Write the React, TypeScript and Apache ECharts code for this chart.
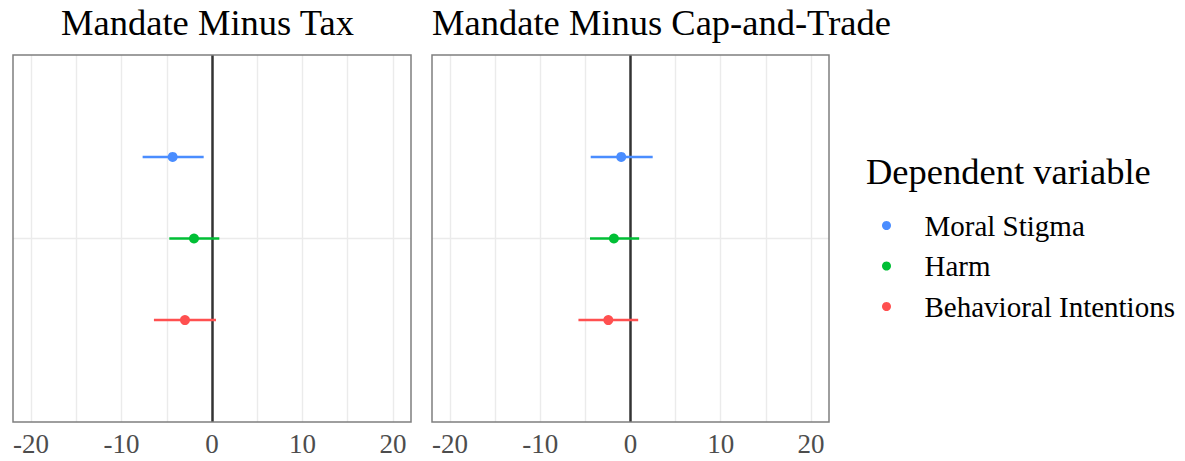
import React, { useEffect, useRef } from "react";
import * as echarts from "echarts";

const variables = ["Moral Stigma", "Harm", "Behavioral Intentions"];
const colors = ["#4a8dff", "#00bf35", "#ff5050"];
const yPos = [1, 0, -1];

const panelTitles = ["Mandate Minus Tax", "Mandate Minus Cap-and-Trade"];
const legendTitle = "Dependent variable";

// panel 1: Mandate Minus Tax
const taxEst = [-4.35, -1.99, -2.99];
const taxLow = [-7.67, -4.72, -6.42];
const taxHigh = [-0.92, 0.81, 0.44];

// panel 2: Mandate Minus Cap-and-Trade
const capEst = [-1.03, -1.84, -2.46];
const capLow = [-4.41, -4.49, -5.77];
const capHigh = [2.46, 0.96, 0.85];

const tickLabels = [-20, -10, 0, 10, 20];
const gridValues = [-20, -15, -10, -5, 5, 10, 15, 20];

const FONT = "'Liberation Serif', 'DejaVu Serif', serif";

export default function App() {
  const ref = useRef<HTMLDivElement>(null);
  useEffect(() => {
    if (!ref.current) return;
    const chart = echarts.init(ref.current, null, { renderer: "svg" });

    const grids = [
      { left: 13, top: 55, width: 398, height: 367 },
      { left: 432, top: 55, width: 397, height: 367 },
    ];
    const panels = [
      { est: taxEst, low: taxLow, high: taxHigh },
      { est: capEst, low: capLow, high: capHigh },
    ];

    const series: any[] = [];
    panels.forEach((p, gi) => {
      series.push({
        type: "scatter",
        xAxisIndex: gi,
        yAxisIndex: gi,
        data: [],
        silent: true,
        z: 1,
        markLine: {
          silent: true,
          symbol: "none",
          animation: false,
          label: { show: false },
          data: [
            ...gridValues.map((v) => ({
              xAxis: v,
              lineStyle: { color: "#ebebeb", width: 1.4, type: "solid" },
            })),
            { yAxis: 0, lineStyle: { color: "#ebebeb", width: 1.4, type: "solid" } },
          ],
        },
      });
      series.push({
        type: "scatter",
        xAxisIndex: gi,
        yAxisIndex: gi,
        data: [],
        silent: true,
        z: 5,
        markLine: {
          silent: true,
          symbol: "none",
          animation: false,
          label: { show: false },
          data: [{ xAxis: 0, lineStyle: { color: "#333333", width: 2.5, type: "solid" } }],
        },
      });
      variables.forEach((name, i) => {
        series.push({
          type: "custom",
          name,
          xAxisIndex: gi,
          yAxisIndex: gi,
          z: 6,
          data: [[p.low[i], p.high[i], yPos[i]]],
          renderItem: (params: any, api: any) => {
            const a = api.coord([api.value(0), api.value(2)]);
            const b = api.coord([api.value(1), api.value(2)]);
            return {
              type: "line",
              shape: { x1: a[0], y1: a[1], x2: b[0], y2: b[1] },
              style: { stroke: colors[i], lineWidth: 2.5 },
            };
          },
          itemStyle: { color: colors[i] },
        });
        series.push({
          type: "scatter",
          name,
          xAxisIndex: gi,
          yAxisIndex: gi,
          z: 7,
          symbol: "circle",
          symbolSize: 10,
          itemStyle: { color: colors[i], opacity: 1 },
          data: [[p.est[i], yPos[i]]],
        });
      });
    });

    chart.setOption({
      animation: false,
      backgroundColor: "#ffffff",
      grid: grids.map((g) => ({
        ...g,
        show: true,
        borderColor: "#7f7f7f",
        borderWidth: 1.5,
        backgroundColor: "transparent",
        z: 10,
      })),
      xAxis: grids.map((_, gi) => ({
        type: "value",
        gridIndex: gi,
        min: -22,
        max: 22,
        axisLine: { show: false },
        axisTick: { show: false },
        splitLine: { show: false },
        axisLabel: {
          customValues: tickLabels,
          color: "#4d4d4d",
          fontSize: 27,
          fontFamily: FONT,
          margin: 8,
          formatter: (v: number) => String(v),
        },
      })),
      yAxis: grids.map((_, gi) => ({
        type: "value",
        gridIndex: gi,
        min: -2.25,
        max: 2.25,
        show: false,
        splitLine: { show: false },
      })),
      legend: {
        orient: "vertical",
        left: 877,
        top: 206,
        itemWidth: 66,
        itemHeight: 9,
        itemGap: 11.5,
        icon: "circle",
        data: variables.map((n, i) => ({ name: n, itemStyle: { color: colors[i] } })),
        textStyle: { fontFamily: FONT, fontSize: 29, color: "#000000", lineHeight: 28 },
        selectedMode: false,
      },
      graphic: [
        {
          type: "text",
          x: 207.5,
          y: 22,
          style: {
            text: panelTitles[0],
            font: `36.5px ${FONT}`,
            fill: "#000000",
            textAlign: "center",
            textVerticalAlign: "middle",
          },
        },
        {
          type: "text",
          x: 661.5,
          y: 22,
          style: {
            text: panelTitles[1],
            font: `36.5px ${FONT}`,
            fill: "#000000",
            textAlign: "center",
            textVerticalAlign: "middle",
          },
        },
        {
          type: "text",
          x: 866,
          y: 171,
          style: {
            text: legendTitle,
            font: `36.5px ${FONT}`,
            fill: "#000000",
            textAlign: "left",
            textVerticalAlign: "middle",
          },
        },
      ],
      series,
    });
    return () => chart.dispose();
  }, []);
  return (
    <div
      ref={ref}
      style={{ position: "fixed", left: 0, top: 0, width: 1185, height: 461 }}
    />
  );
}
